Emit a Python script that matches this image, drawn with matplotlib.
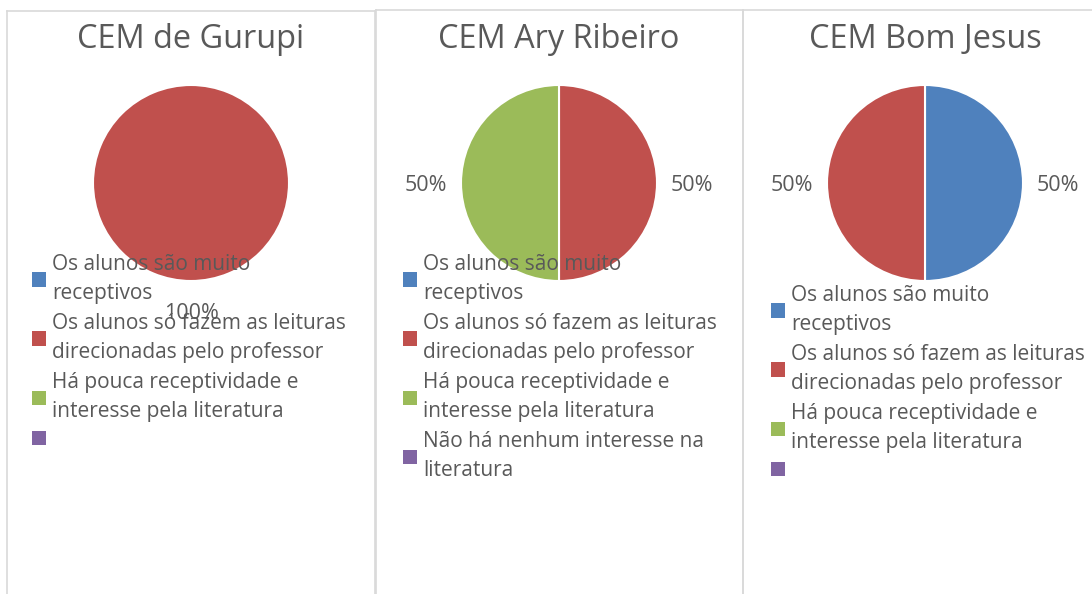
import matplotlib
matplotlib.use("Agg")
import matplotlib.pyplot as plt
from matplotlib.lines import Line2D

plt.rcParams['font.family'] = ['Open Sans', 'DejaVu Sans']

W, H = 1092, 594

schools = ['CEM de Gurupi', 'CEM Ary Ribeiro', 'CEM Bom Jesus']
labels_common = [
    'Os alunos são muito\nreceptivos',
    'Os alunos só fazem as leituras\ndirecionadas pelo professor',
    'Há pouca receptividade e\ninteresse pela literatura',
]
last_label = ['', 'Não há nenhum interesse na\nliteratura', '']
gurupi = [0, 100, 0, 0]
ary = [0, 50, 50, 0]
bom_jesus = [50, 50, 0, 0]
values = [gurupi, ary, bom_jesus]

colors = ['#4f81bd', '#c0504d', '#9bbb59', '#8064a2']
text_color = '#595959'
border = '#d9d9d9'

# layout in pixels
centers_x = [191, 559, 925]
center_y = 183
radius = 98
pct_dist = [1.31, 1.36, 1.36]
legend_x = [32, 403, 771]
legend_y = [254, 254, 285]


def fx(x):
    return x / W


def fy(y):
    return 1 - y / H


fig = plt.figure(figsize=(W / 100, H / 100), dpi=100)

# panel borders
for x0, x1, y0 in [(7, 375, 11), (376, 743, 10), (743, 1100, 10)]:
    fig.add_artist(Line2D([fx(x0), fx(x0)], [fy(y0), 0], color=border, lw=1.2))
    fig.add_artist(Line2D([fx(x0), fx(x1)], [fy(y0), fy(y0)], color=border, lw=1.2))
    fig.add_artist(Line2D([fx(x1), fx(x1)], [fy(y0), 0], color=border, lw=1.2))


def pct(p):
    return '' if p < 1 else f'{p:.0f}%'


for i, name in enumerate(schools):
    cx = centers_x[i]
    ax = fig.add_axes([fx(cx - radius), fy(center_y + radius),
                       2 * radius / W, 2 * radius / H])
    wedges, _, autotexts = ax.pie(values[i], colors=colors, startangle=90,
                                  counterclock=False, autopct=pct,
                                  pctdistance=pct_dist[i],
                                  wedgeprops=dict(edgecolor='white', linewidth=1.5),
                                  textprops=dict(color=text_color, fontsize=15.5))
    for t in autotexts:
        t.set_va('center_baseline')
    for w, v in zip(wedges, values[i]):
        if v == 0:
            w.set_linewidth(0)
    ax.set_xlim(-1, 1)
    ax.set_ylim(-1, 1)
    ax.set_aspect('equal')
    ax.axis('off')

    fig.text(fx(cx), fy(48), name, ha='center', va='baseline',
             fontsize=23.4, color=text_color)

    leg = fig.legend(wedges, labels_common + [last_label[i]], loc='upper left',
                     bbox_to_anchor=(fx(legend_x[i]), fy(legend_y[i])),
                     frameon=False, borderpad=0, borderaxespad=0,
                     handlelength=0.67, handleheight=0.67, handletextpad=0.29,
                     labelspacing=0.45, prop=dict(size=15))
    for t in leg.get_texts():
        t.set_color(text_color)
        t.set_linespacing(1.48)
        if t.get_text() == '':
            t.set_fontsize(6)
    for h in leg.legend_handles:
        h.set_linewidth(0)
    leg.set_zorder(5)

fig.savefig('out.png', dpi=100)
